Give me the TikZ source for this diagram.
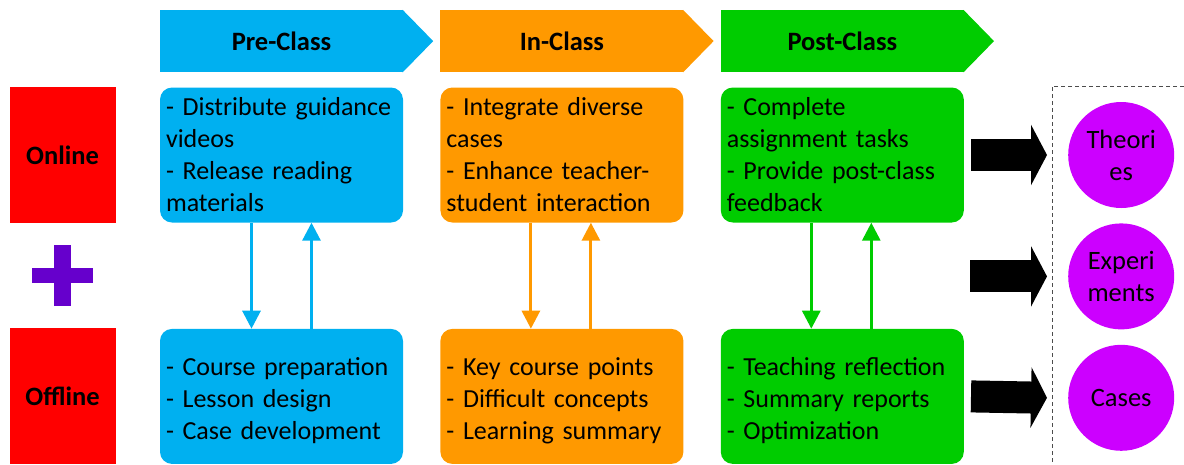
\documentclass[tikz,border=0pt]{standalone}
\usepackage{fontspec}
\setmainfont{Carlito}
\usetikzlibrary{positioning}
\usetikzlibrary{calc}
\usetikzlibrary{arrows.meta}

\definecolor{preblue}{HTML}{00B0F0}
\definecolor{inorange}{HTML}{FF9900}
\definecolor{postgreen}{HTML}{00CC00}
\definecolor{modered}{HTML}{FF0000}
\definecolor{plusviolet}{HTML}{6600CC}
\definecolor{outcome}{HTML}{CC00FF}

\tikzset{
	phase/.style={minimum width=243pt, minimum height=62pt, inner sep=0pt, font=\bfseries\fontsize{26.5}{30}\selectfont},
	mode/.style={fill=modered, minimum width=106pt, minimum height=136pt, inner sep=0pt, font=\bfseries\fontsize{26.5}{30}\selectfont},
	task/.style={rounded corners=12pt, minimum width=243pt, minimum height=135pt, text width=231pt, inner xsep=6pt, align=left, font=\fontsize{26}{32}\selectfont},
	lowtask/.style={task, execute at begin node={\rule{0pt}{26pt}}},
	result/.style={circle, fill=outcome, minimum size=106pt, inner sep=0pt, align=center, font=\fontsize{26.5}{32}\selectfont},
	link/.style={line width=3pt, -{Triangle[length=18pt,width=18pt]}},
	bigarrow/.style={line width=32pt, -{Triangle[length=16pt,width=60pt]}},
}

\begin{document}
\begin{tikzpicture}[x=1pt, y=-1pt]
	\useasboundingbox (0,0) rectangle (1184,464);

	% Online row
	\node [task, fill=preblue] at (281.5,155) (preOn) {- Distribute guidance\\videos\\- Release reading\\materials};
	\node [task, fill=inorange, right=37pt of preOn] (inOn) {- Integrate diverse\\cases\\- Enhance teacher-\\student interaction};
	\node [task, fill=postgreen, right=37pt of inOn] (postOn) {- Complete\\assignment tasks\\- Provide post-class\\feedback};

	% Offline row
	\node [lowtask, fill=preblue, below=106pt of preOn] (preOff) {- Course preparation\\- Lesson design\\- Case development};
	\node [lowtask, fill=inorange, below=106pt of inOn] (inOff) {- Key course points\\- Difficult concepts\\- Learning summary};
	\node [lowtask, fill=postgreen, below=106pt of postOn] (postOff) {- Teaching reflection\\- Summary reports\\- Optimization};

	% Phase headers
	\node [phase, fill=preblue, above=15pt of preOn] (pre) {Pre-Class};
	\node [phase, fill=inorange, above=15pt of inOn] (in) {In-Class};
	\node [phase, fill=postgreen, above=15pt of postOn] (post) {Post-Class};
	\fill [preblue] ([xshift=-0.5pt]pre.north east) -- ($(pre.east)+(30pt,0)$) -- ([xshift=-0.5pt]pre.south east) -- cycle;
	\fill [inorange] ([xshift=-0.5pt]in.north east) -- ($(in.east)+(30pt,0)$) -- ([xshift=-0.5pt]in.south east) -- cycle;
	\fill [postgreen] ([xshift=-0.5pt]post.north east) -- ($(post.east)+(30pt,0)$) -- ([xshift=-0.5pt]post.south east) -- cycle;

	% Online + Offline
	\node [mode, left=44pt of preOn] (online) {Online};
	\node [mode, left=44pt of preOff] (offline) {Offline};
	\coordinate (plus) at ($(online.south)!0.5!(offline.north)$);
	\draw [plusviolet, line width=15pt] ([xshift=-30.5pt]plus) -- ([xshift=30.5pt]plus);
	\draw [plusviolet, line width=17pt] ([yshift=30.5pt]plus) -- ([yshift=-30.5pt]plus);

	% Outcomes
	\draw [gray!60!black, line width=0.8pt, dash pattern=on 4pt off 3pt] (1184,86) -| (1052,464);
	\node [result, right=104pt of postOn] (theo) {Theori\\es};
	\node [result, below=15pt of theo] (expe) {Experi\\ments};
	\node [result, below=15pt of expe] (cases) {Cases};

	% Connections
	\draw [link, preblue] ([xshift=-30pt]preOn.south) -- ([xshift=-30pt]preOff.north);
	\draw [link, preblue] ([xshift=30pt]preOff.north) -- ([xshift=30pt]preOn.south);
	\draw [link, inorange] ([xshift=-31pt]inOn.south) -- ([xshift=-31pt]inOff.north);
	\draw [link, inorange] ([xshift=29pt]inOff.north) -- ([xshift=29pt]inOn.south);
	\draw [link, postgreen] ([xshift=-31pt]postOn.south) -- ([xshift=-31pt]postOff.north);
	\draw [link, postgreen] ([xshift=29pt]postOff.north) -- ([xshift=29pt]postOn.south);
	\draw [bigarrow] ([xshift=7pt]postOn.east) -- ([xshift=-21pt]theo.west);
	\draw [bigarrow] ([xshift=-98pt]expe.west) -- ([xshift=-21pt]expe.west);
	\draw [bigarrow] ([xshift=7pt]postOff.east) -- ([xshift=-21pt]cases.west);

\end{tikzpicture}
\end{document}
